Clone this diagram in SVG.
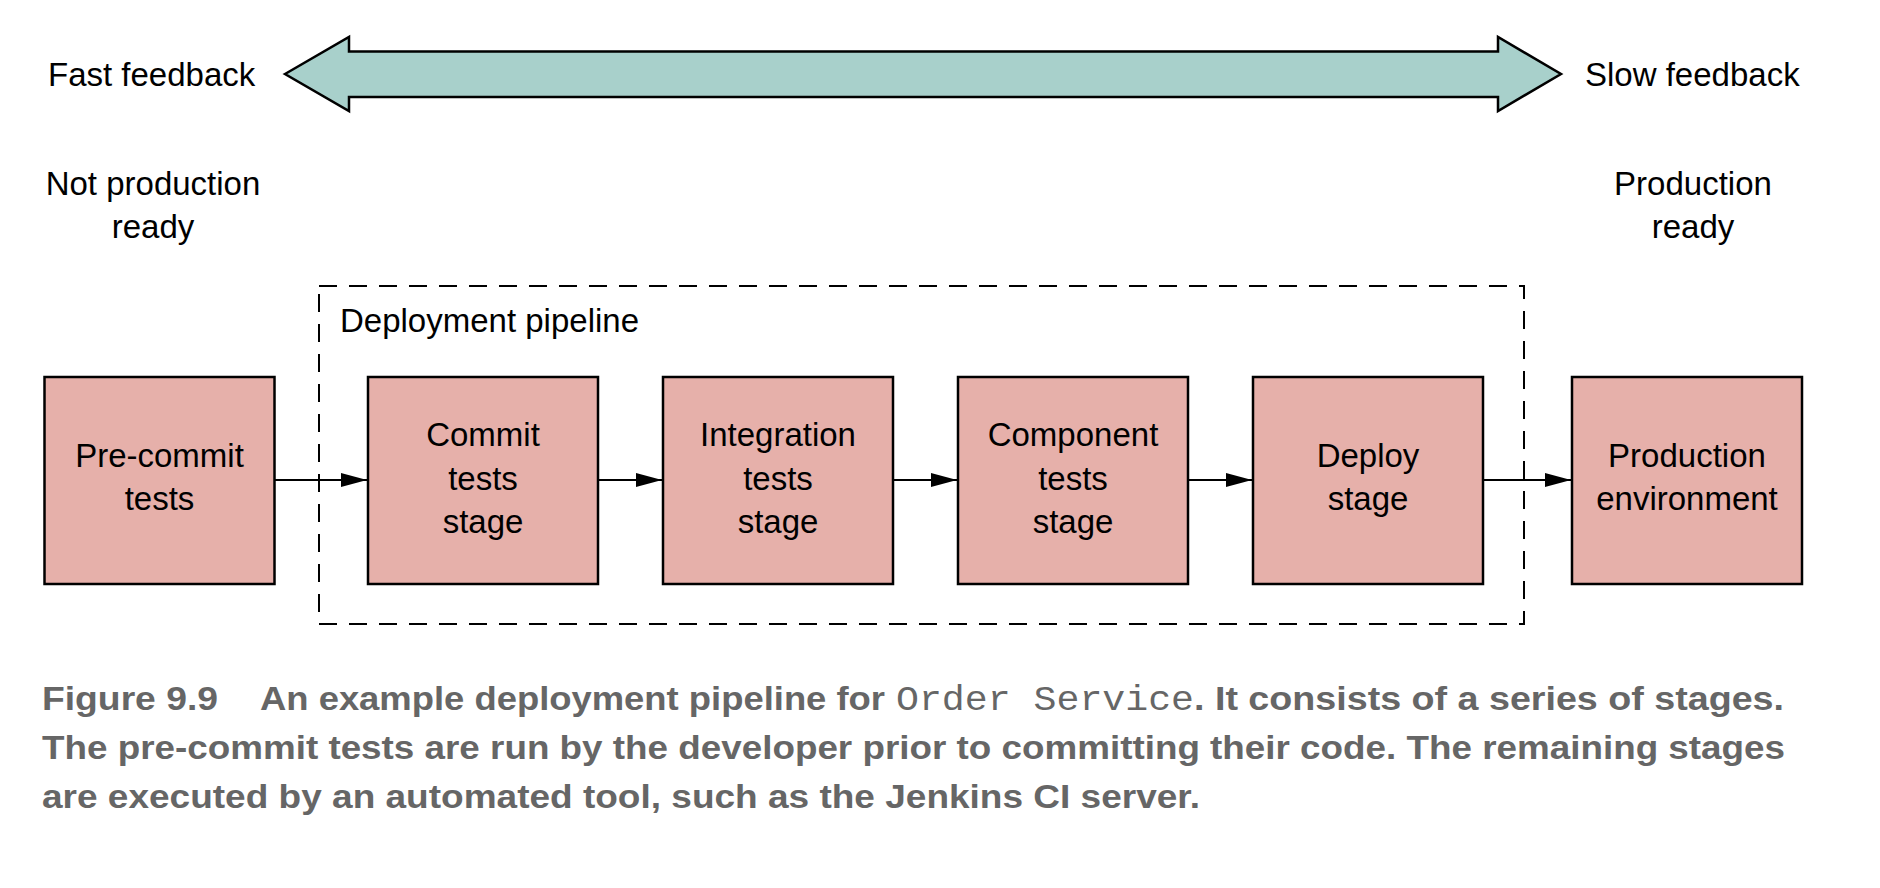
<svg xmlns="http://www.w3.org/2000/svg" width="1880" height="888" viewBox="0 0 1880 888">
<style>
.lbl{font-family:"Liberation Sans",Arial,sans-serif;font-size:33px;fill:#000;}
.c{text-anchor:middle;}
.box{fill:#e6b0aa;stroke:#000;stroke-width:2.5;}
.conn{stroke:#000;stroke-width:2;fill:none;}
.cap{font-family:"Liberation Sans",Arial,sans-serif;font-weight:bold;font-size:33px;fill:#666666;}
.mono{font-family:"Liberation Mono","Courier New",monospace;font-weight:normal;font-size:35px;fill:#666666;}
</style>
<defs>
<marker id="ah" markerWidth="26" markerHeight="14" refX="26" refY="7" orient="auto" markerUnits="userSpaceOnUse">
<polygon points="0,0 26,7 0,14" fill="#000"/>
</marker>
</defs>
<rect width="1880" height="888" fill="#fff"/>

<g id="feedback-arrow">
<polygon points="285,74 349,37 349,51.5 1498,51.5 1498,37 1561,74 1498,111 1498,97 349,97 349,111" fill="#a8d0cb" stroke="#000" stroke-width="2.5" stroke-linejoin="miter"/>
</g>
<g id="labels">
<text class="lbl" x="48" y="86">Fast feedback</text>
<text class="lbl" x="1585" y="86">Slow feedback</text>
<text class="lbl c" x="153" y="195">Not production</text>
<text class="lbl c" x="153" y="238">ready</text>
<text class="lbl c" x="1693" y="195">Production</text>
<text class="lbl c" x="1693" y="238">ready</text>
</g>

<g id="pipeline-group">
<rect x="319" y="286" width="1205" height="338" fill="none" stroke="#000" stroke-width="2" stroke-dasharray="18 12"/>
<text class="lbl" x="340" y="332">Deployment pipeline</text>
</g>

<g id="precommit">
<rect class="box" x="44.5" y="377" width="230" height="207"/>
<text class="lbl c" x="159.5" y="467">Pre-commit</text>
<text class="lbl c" x="159.5" y="510">tests</text>
</g>
<g id="commit">
<rect class="box" x="368" y="377" width="230" height="207"/>
<text class="lbl c" x="483" y="446">Commit</text>
<text class="lbl c" x="483" y="489.5">tests</text>
<text class="lbl c" x="483" y="533">stage</text>
</g>
<g id="integration">
<rect class="box" x="663" y="377" width="230" height="207"/>
<text class="lbl c" x="778" y="446">Integration</text>
<text class="lbl c" x="778" y="489.5">tests</text>
<text class="lbl c" x="778" y="533">stage</text>
</g>
<g id="component">
<rect class="box" x="958" y="377" width="230" height="207"/>
<text class="lbl c" x="1073" y="446">Component</text>
<text class="lbl c" x="1073" y="489.5">tests</text>
<text class="lbl c" x="1073" y="533">stage</text>
</g>
<g id="deploy">
<rect class="box" x="1253" y="377" width="230" height="207"/>
<text class="lbl c" x="1368" y="467">Deploy</text>
<text class="lbl c" x="1368" y="510">stage</text>
</g>
<g id="production">
<rect class="box" x="1572" y="377" width="230" height="207"/>
<text class="lbl c" x="1687" y="467">Production</text>
<text class="lbl c" x="1687" y="510">environment</text>
</g>

<g id="connectors">
<line class="conn" x1="275" y1="480" x2="367" y2="480" marker-end="url(#ah)"/>
<line class="conn" x1="598" y1="480" x2="662" y2="480" marker-end="url(#ah)"/>
<line class="conn" x1="893" y1="480" x2="957" y2="480" marker-end="url(#ah)"/>
<line class="conn" x1="1188" y1="480" x2="1252" y2="480" marker-end="url(#ah)"/>
<line class="conn" x1="1483" y1="480" x2="1571" y2="480" marker-end="url(#ah)"/>
</g>

<g id="caption">
<text class="cap" y="710"><tspan x="42" textLength="176" lengthAdjust="spacingAndGlyphs">Figure 9.9</tspan><tspan x="260" textLength="625" lengthAdjust="spacingAndGlyphs">An example deployment pipeline for</tspan><tspan class="mono" x="896" textLength="298" lengthAdjust="spacingAndGlyphs">Order Service</tspan><tspan x="1194" textLength="590" lengthAdjust="spacingAndGlyphs">. It consists of a series of stages.</tspan></text>
<text class="cap" x="42" y="759" textLength="1743" lengthAdjust="spacingAndGlyphs">The pre-commit tests are run by the developer prior to committing their code. The remaining stages</text>
<text class="cap" x="42" y="808" textLength="1158" lengthAdjust="spacingAndGlyphs">are executed by an automated tool, such as the Jenkins CI server.</text>
</g>
</svg>
